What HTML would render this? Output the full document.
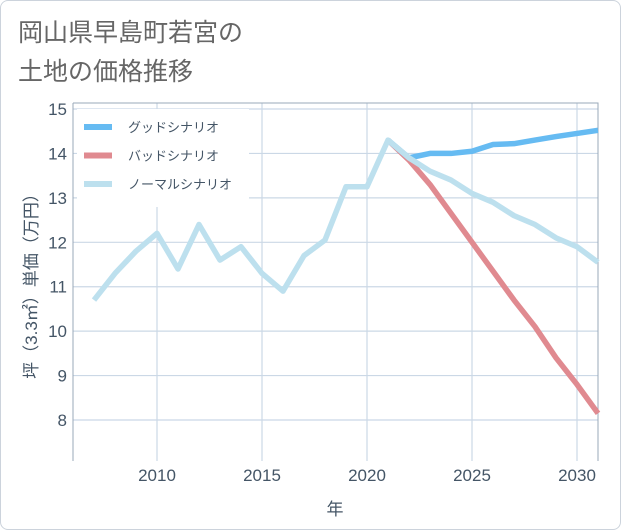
<!DOCTYPE html>
<html><head><meta charset="utf-8"><style>
body{margin:0;background:#fff;}
#card{position:absolute;left:0;top:0;width:619px;height:528px;border:1px solid #ccd3dc;border-radius:8px;background:#fff;overflow:hidden;}
#title{position:absolute;left:17px;top:13px;font:25px "Liberation Sans","Noto Sans CJK JP",sans-serif;color:#666;line-height:39px;}
svg{position:absolute;left:0;top:0;}
text{font-family:"Liberation Sans","Noto Sans CJK JP",sans-serif;}
</style></head><body>
<div id="card">
<div id="title">岡山県早島町若宮の<br>土地の価格推移</div>
<svg id="chart" width="621" height="530"></svg>
</div>
<script>
const years=[2007,2008,2009,2010,2011,2012,2013,2014,2015,2016,2017,2018,2019,2020,2021,2022,2023,2024,2025,2026,2027,2028,2029,2030,2031];
const normal=[10.7,11.3,11.8,12.2,11.4,12.4,11.6,11.9,11.3,10.9,11.7,12.05,13.25,13.25,14.3,13.9,13.6,13.4,13.1,12.9,12.6,12.4,12.1,11.9,11.55];
const goodYears=[2021,2022,2023,2024,2025,2026,2027,2028,2029,2030,2031];
const good=[14.3,13.9,14.0,14.0,14.05,14.2,14.22,14.3,14.38,14.45,14.52];
const bad=[14.3,13.85,13.3,12.65,12.0,11.35,10.7,10.1,9.4,8.8,8.15];
const yTicks=[8,9,10,11,12,13,14,15];
const xTicks=[2010,2015,2020,2025,2030];
const legendLabels=['グッドシナリオ','バッドシナリオ','ノーマルシナリオ'];
const L=72,R=597,T=102,B=460;
const x=v=>156+(v-2010)*21;
const y=v=>108+(15-v)*44.43;
const svg=document.getElementById('chart');
const NS='http://www.w3.org/2000/svg';
function mk(tag,attrs){const e=document.createElementNS(NS,tag);for(const k in attrs)e.setAttribute(k,attrs[k]);svg.appendChild(e);return e;}
yTicks.forEach(v=>{const g=mk('line',{x1:L,x2:R,y1:y(v),y2:y(v),stroke:'#cbd8e6','stroke-width':1.2});


const t=mk('text',{x:L-6,y:y(v)+6,'text-anchor':'end','font-size':17,fill:'#445566'});t.textContent=v;

});
xTicks.forEach(v=>{const g=mk('line',{x1:x(v),x2:x(v),y1:T,y2:B,stroke:'#cbd8e6','stroke-width':1.2});


const t=mk('text',{x:x(v),y:B+20,'text-anchor':'middle','font-size':17,fill:'#445566'});t.textContent=v;

});
const frame=mk('path',{d:`M${L} ${T}H${R}V${B}M${L} ${T}V${B}`,fill:'none',stroke:'#9aa8b8','stroke-width':1});


const xt=mk('text',{x:334,y:514,'text-anchor':'middle','font-size':17,fill:'#445566'});xt.textContent='年';


const yt=mk('text',{x:0,y:0,'text-anchor':'middle','font-size':17,fill:'#445566',transform:`translate(36,${(T+B)/2}) rotate(-90)`});yt.textContent='坪（3.3㎡）単価（万円）';


const lg=mk('rect',{x:76,y:108,width:172,height:98,fill:'#fff'});


function line(xs,vs,color,name){const p=mk('polyline',{points:xs.map((yr,i)=>x(yr)+','+y(vs[i])).join(' '),fill:'none',stroke:color,'stroke-width':5.5,'stroke-linejoin':'round'});

}
line(goodYears,bad,'#e08a90','bad-scenario-line');
line(goodYears,good,'#66bbf2','good-scenario-line');
line(years,normal,'#bde0ee','normal-scenario-line');
const cols=['#66bbf2','#e08a90','#bde0ee'];
legendLabels.forEach((s,i)=>{const yy=126+i*28.5;
const l=mk('line',{x1:83,x2:111,y1:yy,y2:yy,stroke:cols[i],'stroke-width':6});


const t=mk('text',{x:127,y:yy+5,'font-size':13,fill:'#445566'});t.textContent=s;

});
</script>
</body></html>
